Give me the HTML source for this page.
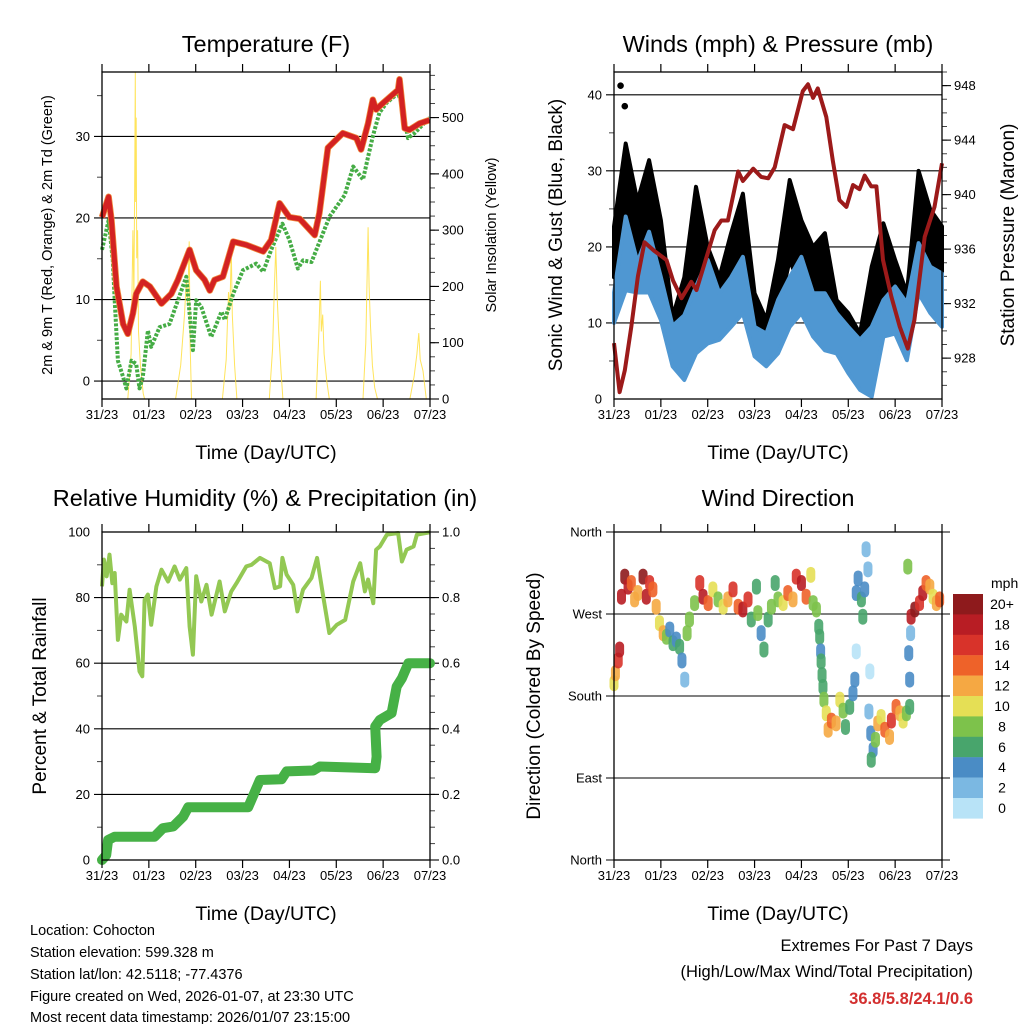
<!DOCTYPE html>
<html><head><meta charset="utf-8">
<style>
html,body{margin:0;padding:0;background:#fff;}
svg{display:block;font-family:"Liberation Sans",Arial,sans-serif;}
</style></head>
<body>
<svg id="fig" width="1024" height="1024" viewBox="0 0 1024 1024" xmlns="http://www.w3.org/2000/svg">
<rect width="1024" height="1024" fill="#fff"/>
<g id="layer"></g>
<text x="30" y="935" font-size="14.5">Location: Cohocton</text>
<text x="30" y="957" font-size="14.5">Station elevation: 599.328 m</text>
<text x="30" y="979" font-size="14.5">Station lat/lon: 42.5118; -77.4376</text>
<text x="30" y="1001" font-size="14.5">Figure created on Wed, 2026-01-07, at 23:30 UTC</text>
<text x="30" y="1022" font-size="14.5">Most recent data timestamp: 2026/01/07 23:15:00</text>
<text x="973" y="951" font-size="16.5" text-anchor="end">Extremes For Past 7 Days</text>
<text x="973" y="977" font-size="16.5" text-anchor="end">(High/Low/Max Wind/Total Precipitation)</text>
<text x="973" y="1004" font-size="16.5" font-weight="bold" fill="#d32f2f" text-anchor="end">36.8/5.8/24.1/0.6</text>
</svg>
<script>
// ---- data ----
const dayLabels = ["31/23","01/23","02/23","03/23","04/23","05/23","06/23","07/23"];
const tempT = [0,.14,.20,.31,.45,.55,.66,.73,.87,1.02,1.27,1.48,1.62,1.87,2.01,2.19,2.30,2.40,2.58,2.80,3.08,3.44,3.61,3.79,4.00,4.22,4.54,4.64,4.82,5.14,5.43,5.53,5.68,5.78,5.85,6.00,6.32,6.35,6.46,6.56,6.78,6.99];
const tempV = [20.1,22.6,19.8,11.6,7.0,5.8,8.3,10.7,12.2,11.6,9.5,10.7,12.4,16.1,13.6,12.4,11.1,12.4,12.8,17.1,16.7,15.9,17.3,21.8,20.1,19.9,17.9,20.6,28.6,30.4,29.8,28.4,31.6,34.5,33.3,34.1,35.7,37.0,31.0,30.8,31.6,32.0];
const dewT = [0,.14,.23,.27,.34,.45,.52,.63,.73,.80,.87,.98,1.05,1.23,1.44,1.80,1.94,2.01,2.12,2.33,2.55,2.62,2.80,3.01,3.29,3.44,3.61,3.85,4.00,4.18,4.29,4.47,4.86,5.18,5.36,5.57,5.68,5.78,5.92,6.07,6.32,6.39,6.53,6.67,6.99];
const dewV = [16.1,19.7,14.8,9.9,2.5,0.5,-0.9,2.5,2.1,-0.9,0.5,6.2,4.2,6.6,7.0,12.8,3.8,9.9,9.1,5.4,8.5,7.5,10.7,13.6,14.4,13.4,16.1,19.3,17.3,13.8,14.8,14.6,20.2,22.8,26.3,24.7,27.5,30.0,32.9,34.1,35.3,34.1,29.8,30.4,32.3];
const solarT = [0,.55,.62,.66,.68,.70,.71,.72,.73,.74,.76,.78,.82,.88,.91,1.57,1.68,1.76,1.80,1.83,1.86,1.88,1.91,2.57,2.65,2.70,2.73,2.76,2.78,2.83,2.88,3.57,3.64,3.68,3.71,3.74,3.77,3.82,3.86,4.57,4.63,4.66,4.68,4.71,4.74,4.80,4.85,5.57,5.63,5.68,5.70,5.73,5.77,5.82,5.88,6.57,6.66,6.72,6.76,6.79,6.85,6.92,7];
const solarV = [0,0,80,300,180,420,600,350,500,250,300,120,60,10,0,0,60,150,210,170,280,100,0,0,70,190,160,265,150,60,0,0,90,200,270,180,120,50,0,0,120,210,120,150,80,30,0,0,100,305,200,130,60,20,0,0,40,80,117,70,50,0,0];
const windT = [0,.25,.5,.75,1,1.25,1.5,1.75,2,2.25,2.5,2.75,3,3.25,3.5,3.75,4,4.25,4.5,4.75,5,5.25,5.5,5.75,6,6.25,6.5,6.75,7];
const sustLo = [10,14.3,14,14,10.4,4.3,2.5,6,7.3,7.8,9.5,11.3,5.6,4.3,6,9.5,11.3,8.2,6.4,6,3.4,1.2,0.3,8.2,8.6,5.1,13.9,11.3,9.5];
const sustHi = [14,24,18,22,16,9.6,11,14.8,18.3,13.9,16,18.7,9.5,8.6,13,16,18.7,13.9,13.9,11.3,9.5,7.8,9.5,13,14.8,12.6,20.5,17.4,16.5];
const gustLo = [16,24,18.3,21.8,14.8,6.4,7.3,15.6,11.7,11.3,13.9,17.4,8.6,6.4,11.3,18.3,14.3,11.3,11.3,8.6,6.9,2.5,10,13.9,11.7,7.3,20.5,16,14.3];
const gustHi = [22.7,33.6,26,31.4,23.5,10.8,16,27.9,20,16,21.8,27,13.9,10.4,18.3,28.8,23.5,20,21.8,13,11.3,8.6,17.4,23.1,18.3,13.9,30,24.9,22.7];
const gustOutT = [0.14,0.23];
const gustOutV = [41.2,38.5];
const presT = [0,.12,.23,.37,.51,.65,.85,1.12,1.26,1.44,1.65,1.76,1.93,2.15,2.29,2.43,2.65,2.75,2.97,3.14,3.29,3.43,3.64,3.82,4.03,4.14,4.25,4.35,4.53,4.67,4.81,4.96,5.10,5.24,5.35,5.49,5.60,5.74,5.92,6.10,6.27,6.41,6.63,6.84,7];
const presV = [929.1,925.5,927.1,930.3,934.0,936.5,935.9,935.2,933.7,932.4,933.6,933.0,934.9,937.4,938.1,938.1,941.7,941.0,941.9,941.3,941.2,942.0,945.1,944.8,947.6,948.1,947.1,947.8,945.7,942.5,939.6,939.1,940.7,940.4,941.4,940.6,940.6,935.2,932.5,930.3,928.7,930.8,936.9,939.1,942.3];
const rhT = [0,.04,.10,.16,.22,.27,.34,.41,.52,.59,.70,.80,.86,.91,.98,1.05,1.16,1.27,1.41,1.55,1.66,1.80,1.87,1.94,2.01,2.12,2.23,2.34,2.51,2.62,2.76,2.87,3.08,3.19,3.37,3.58,3.69,3.80,3.85,3.94,4.08,4.17,4.29,4.47,4.59,4.72,4.85,5.01,5.19,5.36,5.51,5.61,5.68,5.79,5.85,5.93,6.08,6.32,6.40,6.50,6.65,6.72,7];
const rhV = [83.4,91.6,86.5,93.1,84.4,87.5,67.1,74.8,72.7,82.4,71.2,57.5,56.0,79.3,80.9,71.7,83.4,88.5,84.9,89.5,85.5,89.0,71.2,62.6,86.5,78.8,83.9,74.8,84.9,75.8,81.9,84.4,89.5,90.0,92.1,90.5,82.9,83.4,92.1,87.0,83.9,75.8,82.4,86.0,92.1,80.4,69.2,71.7,73.2,84.9,90.5,81.9,85.5,78.3,94.6,95.6,99.2,99.7,91.0,94.6,95.6,99.2,99.9];
const prT = [0,.09,.13,.27,1.12,1.30,1.52,1.73,1.84,3.12,3.37,3.83,3.94,4.51,4.65,5.83,5.86,5.83,5.93,6.18,6.29,6.40,6.54,7];
const prV = [0,.015,.061,.071,.071,.097,.102,.132,.161,.161,.244,.246,.27,.273,.285,.28,.315,.407,.427,.448,.529,.554,.6,.6];
const dirT = [0,.03,.09,.12,.16,.23,.30,.37,.44,.51,.62,.69,.76,.83,.90,.97,1.05,1.12,1.19,1.26,1.33,1.40,1.45,1.51,1.56,1.61,1.72,1.83,1.90,2.01,2.11,2.22,2.33,2.43,2.54,2.65,2.75,2.86,2.93,3.04,3.07,3.14,3.20,3.29,3.36,3.44,3.50,3.61,3.71,3.82,3.89,4.00,4.10,4.20,4.25,4.32,4.37,4.39,4.41,4.42,4.44,4.46,4.48,4.53,4.57,4.64,4.74,4.82,4.89,4.94,5.03,5.10,5.14,5.17,5.21,5.28,5.31,5.35,5.38,5.42,5.17,5.46,5.44,5.48,5.53,5.49,5.58,5.63,5.70,5.78,5.88,5.92,6.02,6.10,6.17,6.24,6.31,6.31,6.29,6.33,6.34,6.42,6.52,6.59,6.66,6.74,6.81,6.88,6.95,6.27];
const dirV = [194,205,219,231,289,311,300,304,286,293,311,289,304,297,278,260,249,245,253,238,242,234,219,198,249,264,282,304,289,282,297,286,278,286,297,278,275,286,264,300,271,249,231,264,278,304,286,282,293,286,311,304,289,313,282,275,256,245,229,218,203,190,176,161,143,153,150,176,164,146,168,183,198,293,309,286,267,297,341,319,229,207,163,139,121,110,132,150,157,143,135,153,168,161,153,161,168,198,227,249,267,275,282,293,304,300,289,282,286,322];
const dirS = [10,12,16,18,18,20,18,14,12,12,20,18,16,14,12,10,12,8,4,6,4,6,4,2,8,8,8,16,18,14,10,8,10,12,16,14,18,16,6,6,8,4,6,6,8,6,8,10,14,12,16,18,14,10,8,8,6,6,4,6,6,6,8,10,12,14,12,10,8,6,6,4,4,4,4,6,6,4,2,2,0,0,2,4,4,6,8,12,10,14,12,16,14,12,10,8,6,4,4,2,18,20,16,18,14,12,10,12,14,8];
const cbLabels = ["20+","18","16","14","12","10","8","6","4","2","0"];
const cbColors = ["#8e1a1c","#b81d24","#d8332a","#ee6229","#f5a843","#e5df55","#7dc24b","#48a56c","#4a8cc5","#7bb8e2","#b8e3f7"];

// ---- drawing ----
const NS="http://www.w3.org/2000/svg";
const layer=document.getElementById('layer');
function el(tag,attrs,parent){const e=document.createElementNS(NS,tag);for(const k in attrs)e.setAttribute(k,attrs[k]);(parent||layer).appendChild(e);return e;}
function txt(s,attrs,parent){const e=el('text',attrs,parent);e.textContent=s;return e;}
function lin(x0,x1,v0,v1){return v=>x0+(v-v0)/(v1-v0)*(x1-x0);}
function pts(T,V,sx,sy){return T.map((t,i)=>sx(t).toFixed(1)+','+sy(V[i]).toFixed(1)).join(' ');}

function panelFrame(g,L,T,R,B,sx){
  const f=el('rect',{x:L,y:T,width:R-L,height:B-T,fill:'none',stroke:'#000','stroke-width':1.3},g);
  
  
  dayLabels.forEach((lab,i)=>{
    const x=sx(i);
    el('line',{x1:x,x2:x,y1:T-8,y2:T,stroke:'#000','stroke-width':1.2},g);
    el('line',{x1:x,x2:x,y1:B,y2:B+8,stroke:'#000','stroke-width':1.2},g);
    const t=txt(lab,{x:x,y:B+20,'font-size':13,'text-anchor':'middle'},g);
    
    
  });
  const xt=txt('Time (Day/UTC)',{x:(L+R)/2,y:B+60,'font-size':19.5,'text-anchor':'middle'},g);
  
  
}
function title(g,s,x,y){const t=txt(s,{x:x,y:y,'font-size':23.5,'text-anchor':'middle'},g);
  
  }
function vlabel(g,s,x,y,size,name){const t=txt(s,{x:0,y:0,'font-size':size,'text-anchor':'middle',transform:`translate(${x},${y}) rotate(-90)`},g);
  
  }
function leftAxis(g,L,R,sy,ticks,labels,minor,gridExt){
  minor.forEach(v=>el('line',{x1:L-5,x2:L,y1:sy(v),y2:sy(v),stroke:'#444','stroke-width':1},g));
  ticks.forEach((v,i)=>{
    el('line',{x1:L-8,x2:gridExt?R+8:R,y1:sy(v),y2:sy(v),stroke:'#000','stroke-width':1.1},g);
    const t=txt(labels[i],{x:L-12,y:sy(v)+4.5,'font-size':13,'text-anchor':'end'},g);
    
    
  });
}
function rightAxis(g,R,sy,ticks,labels,minor){
  minor.forEach(v=>el('line',{x1:R,x2:R+5,y1:sy(v),y2:sy(v),stroke:'#444','stroke-width':1},g));
  ticks.forEach((v,i)=>{
    el('line',{x1:R,x2:R+9,y1:sy(v),y2:sy(v),stroke:'#000','stroke-width':1.1},g);
    const t=txt(labels[i],{x:R+12,y:sy(v)+4.5,'font-size':13},g);
    
    
  });
}
function range(a,b,s){const r=[];for(let v=a;v<=b+1e-9;v+=s)r.push(+v.toFixed(4));return r;}

// Panel 1: temperature
(function(){
  const g=el('g',{});
  
  
  const L=102,T=72,R=430,B=399;
  const sx=lin(L,R,0,7), sy=lin(B,T,-2.2,37.9), ss=lin(B,T,0,581);
  title(g,'Temperature (F)',266,52);
  leftAxis(g,L,R,sy,[0,10,20,30],['0','10','20','30'],[5,15,25,35],false);
  rightAxis(g,R,ss,[0,100,200,300,400,500],['0','100','200','300','400','500'],range(25,575,25));
  const sol=el('polyline',{points:pts(solarT,solarV.map(v=>Math.min(v,581)),sx,ss),fill:'none',stroke:'#ffdf40','stroke-width':1,'stroke-opacity':0.85},g);
  
  
  const dp=el('polyline',{points:pts(dewT,dewV,sx,sy),fill:'none',stroke:'#45ac45','stroke-width':4,'stroke-dasharray':'3 1.6','stroke-linejoin':'round'},g);
  
  
  const t9=el('polyline',{points:pts(tempT,tempV,sx,sy),fill:'none',stroke:'#f08a3c','stroke-width':6.5,'stroke-linejoin':'round'},g);
  
  
  const t2=el('polyline',{points:pts(tempT,tempV,sx,sy),fill:'none',stroke:'#d32222','stroke-width':5,'stroke-linejoin':'round'},g);
  
  
  panelFrame(g,L,T,R,B,sx);
  vlabel(g,'2m & 9m T (Red, Orange) & 2m Td (Green)',52,235,14.5,'y-axis-title');
  vlabel(g,'Solar Insolation (Yellow)',496,235,14.5,'y2-axis-title');
})();

// Panel 2: winds & pressure
(function(){
  const g=el('g',{});
  
  
  const L=614,T=72,R=942,B=399;
  const sx=lin(L,R,0,7), sy=lin(B,T,0,43), sp=lin(B,T,925,949);
  title(g,'Winds (mph) & Pressure (mb)',778,52);
  leftAxis(g,L,R,sy,[10,20,30,40],['10','20','30','40'],[5,15,25,35],false);
  const z=txt('0',{x:L-12,y:B+4.5,'font-size':13,'text-anchor':'end'},g);
  
  
  rightAxis(g,R,sp,[928,932,936,940,944,948],['928','932','936','940','944','948'],range(926,949,1));
  const gustPoly=windT.map((t,i)=>sx(t).toFixed(1)+','+sy(gustHi[i]).toFixed(1)).concat(windT.slice().reverse().map((t,j)=>{const i=windT.length-1-j;return sx(t).toFixed(1)+','+sy(gustLo[i]).toFixed(1);})).join(' ');
  const gb=el('polygon',{points:gustPoly,fill:'#000',stroke:'#000','stroke-width':4,'stroke-linejoin':'round'},g);
  
  
  gustOutT.forEach((t,i)=>{const c=el('circle',{cx:sx(t),cy:sy(gustOutV[i]),r:3.3,fill:'#000'},g);
    
    });
  const sustPoly=windT.map((t,i)=>sx(t).toFixed(1)+','+sy(sustHi[i]).toFixed(1)).concat(windT.slice().reverse().map((t,j)=>{const i=windT.length-1-j;return sx(t).toFixed(1)+','+sy(sustLo[i]).toFixed(1);})).join(' ');
  const sb=el('polygon',{points:sustPoly,fill:'#4f97d2',stroke:'#4f97d2','stroke-width':4,'stroke-linejoin':'round'},g);
  
  
  const pl=el('polyline',{points:pts(presT,presV,sx,sp),fill:'none',stroke:'#9c1a1a','stroke-width':4,'stroke-linejoin':'round'},g);
  
  
  panelFrame(g,L,T,R,B,sx);
  vlabel(g,'Sonic Wind & Gust (Blue, Black)',562,235,19,'y-axis-title');
  vlabel(g,'Station Pressure (Maroon)',1014,235,19,'y2-axis-title');
})();

// Panel 3: RH & precip
(function(){
  const g=el('g',{});
  
  
  const L=102,T=532,R=430,B=860;
  const sx=lin(L,R,0,7), sy=lin(B,T,0,100), sp=lin(B,T,0,1);
  title(g,'Relative Humidity (%) & Precipitation (in)',265,506);
  leftAxis(g,L,R,sy,[20,40,60,80],['20','40','60','80'],[10,30,50,70,90],false);
  ['0','100'].forEach(s=>{const t=txt(s,{x:L-12,y:sy(+s)+4.5,'font-size':13,'text-anchor':'end'},g);
    
    });
  rightAxis(g,R,sp,[0,.2,.4,.6,.8,1],['0.0','0.2','0.4','0.6','0.8','1.0'],range(.05,.95,.05));
  const rh=el('polyline',{points:pts(rhT,rhV,sx,sy),fill:'none',stroke:'#93c853','stroke-width':4,'stroke-linejoin':'round'},g);
  
  
  const pr=el('polyline',{points:pts(prT,prV,sx,sp),fill:'none',stroke:'#46b146','stroke-width':10,'stroke-linejoin':'round','stroke-linecap':'round'},g);
  
  
  panelFrame(g,L,T,R,B,sx);
  vlabel(g,'Percent & Total Rainfall',46,696,19,'y-axis-title');
})();

// Panel 4: wind direction
(function(){
  const g=el('g',{});
  
  
  const L=614,T=532,R=942,B=860;
  const sx=lin(L,R,0,7), sy=lin(B,T,0,360);
  title(g,'Wind Direction',778,506);
  leftAxis(g,L,R,sy,[0,90,180,270,360],['North','East','South','West','North'],[],true);
  function col(s){let i=Math.round(s/2);if(i>10)i=10;if(i<0)i=0;return cbColors[10-i];}
  dirT.forEach((t,i)=>{
    const x=sx(t), y=sy(dirV[i]);
    const c=el('line',{x1:x,x2:x,y1:y-3.5,y2:y+3.5,stroke:col(dirS[i]),'stroke-width':9,'stroke-linecap':'round','stroke-opacity':0.9},g);
    
    
  });
  panelFrame(g,L,T,R,B,sx);
  vlabel(g,'Direction (Colored By Speed)',540,696,19,'y-axis-title');
  const cb=el('g',{},g);
  
  
  const mph=txt('mph',{x:991,y:588,'font-size':14},cb);
  
  
  cbColors.forEach((c,i)=>{
    const y=594+i*20.4;
    el('rect',{x:953,y:y,width:30,height:20.6,fill:c},cb);
    const t=txt(cbLabels[i],{x:1002,y:y+15,'font-size':14,'text-anchor':'middle'},cb);
    
    
  });
})();
</script>
</body></html>
